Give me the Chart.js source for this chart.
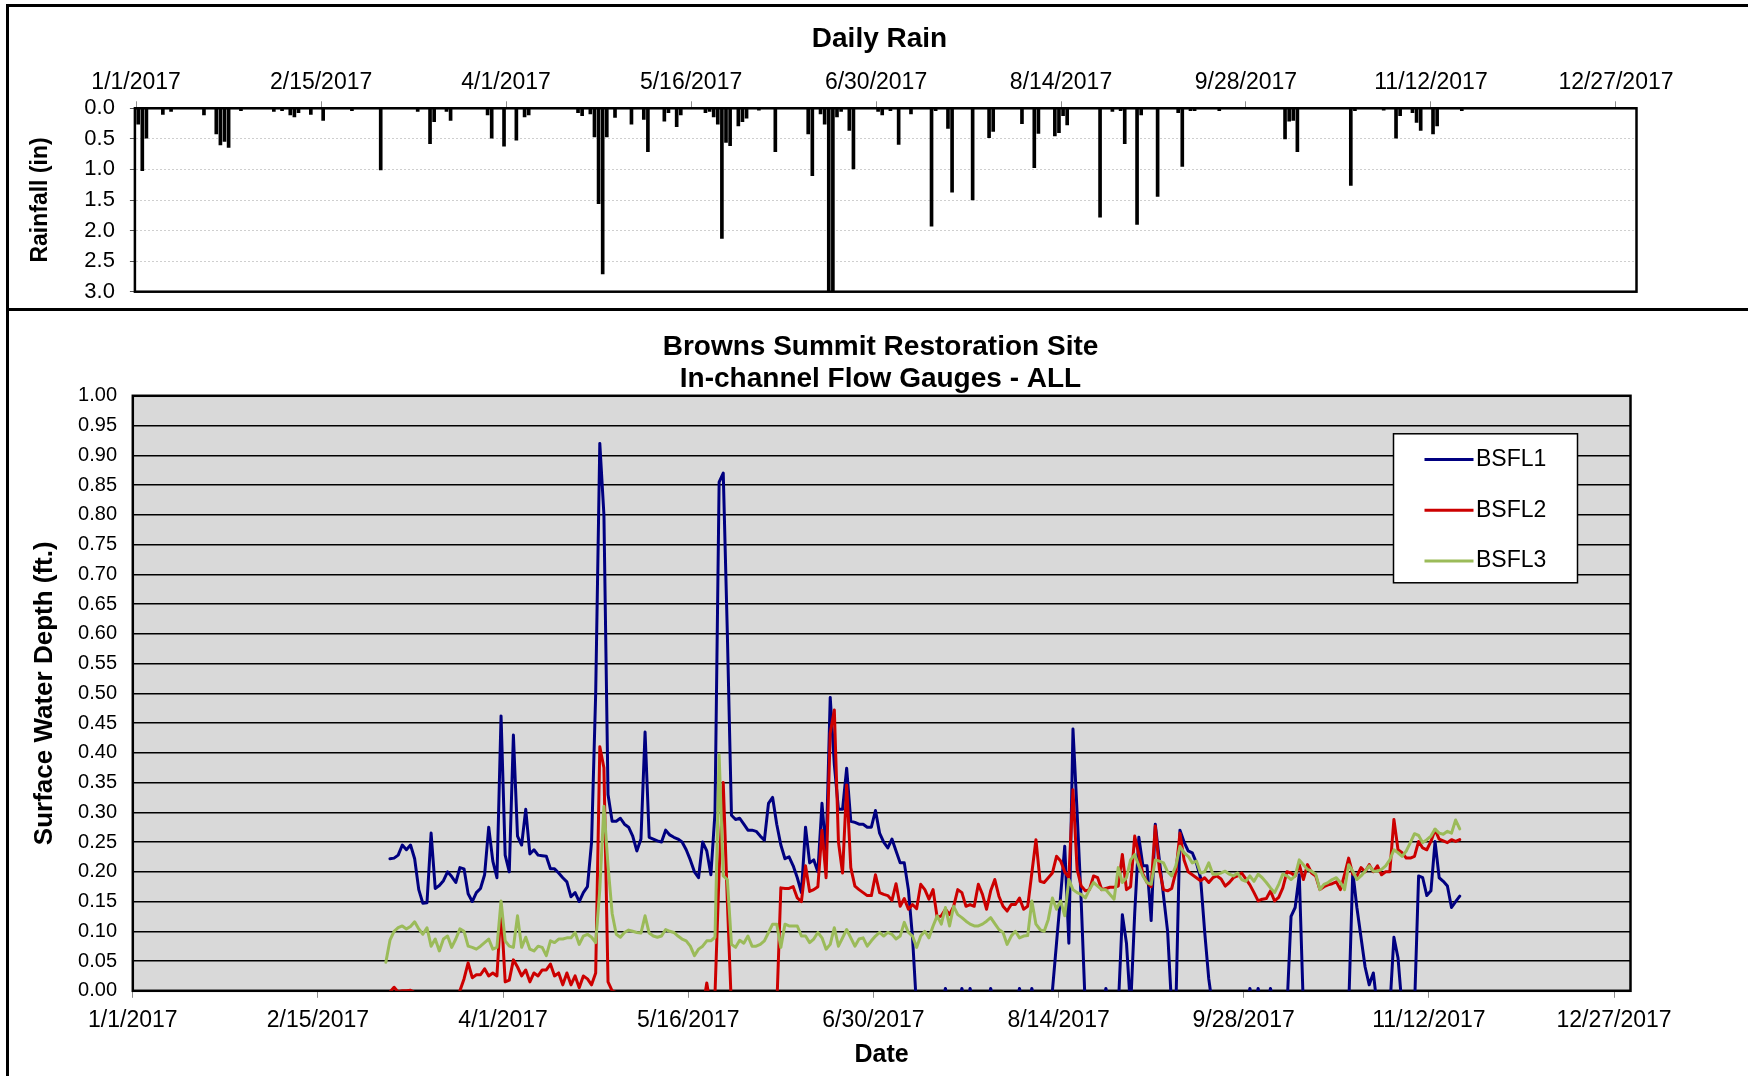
<!DOCTYPE html>
<html>
<head>
<meta charset="utf-8">
<title>Browns Summit Restoration Site</title>
<script src="https://cdn.jsdelivr.net/npm/chart.js@4.4.1/dist/chart.umd.min.js"></script>
<style>
  html, body { margin: 0; padding: 0; background: #fff; }
  body { width: 1748px; height: 1076px; position: relative; overflow: hidden; }
  canvas { position: absolute; left: 0; }
  #rainChart { top: 0; }
  #flowChart { top: 310px; }
  .rule { position: absolute; background: #000; }
</style>
</head>
<body>
<canvas id="rainChart" width="1759" height="310"></canvas>
<canvas id="flowChart" width="1761" height="766"></canvas>
<div class="rule" style="left:7px; top:4px; width:1741px; height:3px;"></div>
<div class="rule" style="left:6px; top:4px; width:3px; height:1072px;"></div>
<div class="rule" style="left:7px; top:308px; width:1741px; height:3px;"></div>
<script>
// axis dates, as day of 2017 (0 = 1 Jan)
const tickDays = [0, 45, 90, 135, 180, 225, 270, 315, 360];
const tickDates = ["1/1/2017", "2/15/2017", "4/1/2017", "5/16/2017", "6/30/2017", "8/14/2017", "9/28/2017", "11/12/2017", "12/27/2017"];

// daily rainfall (in), day of year
const rainDays = [0, 1, 2, 6, 8, 16, 19, 20, 21, 22, 25, 33, 35, 37, 38, 39, 42, 45, 52, 59,
  68, 71, 72, 75, 76, 85, 86, 89, 92, 94, 95, 107, 108, 110, 111, 112, 113, 114, 116, 120,
  123, 124, 128, 129, 131, 132, 138, 139, 140, 141, 142, 143, 144, 146, 147, 148, 151, 155, 163, 164,
  166, 167, 168, 169, 170, 171, 173, 174, 180, 181, 183, 185, 188, 193, 194, 197, 198, 203, 207, 208,
  215, 218, 219, 223, 224, 225, 226, 234, 237, 239, 240, 243, 244, 248, 253, 254, 256, 257, 263, 279,
  280, 281, 282, 295, 296, 303, 306, 307, 310, 311, 312, 315, 316, 322];
const rainInches = [0.26, 1.02, 0.49, 0.1, 0.05, 0.11, 0.42, 0.6, 0.54, 0.64, 0.04, 0.05, 0.04, 0.11, 0.14, 0.07, 0.1, 0.2, 0.04, 1.01,
  0.05, 0.58, 0.22, 0.05, 0.2, 0.11, 0.49, 0.62, 0.52, 0.14, 0.11, 0.07, 0.12, 0.09, 0.47, 1.56, 2.71, 0.47, 0.15, 0.26,
  0.18, 0.71, 0.21, 0.07, 0.3, 0.11, 0.07, 0.05, 0.14, 0.26, 2.13, 0.56, 0.61, 0.29, 0.22, 0.16, 0.03, 0.71, 0.42, 1.1,
  0.09, 0.26, 3.0, 3.0, 0.14, 0.05, 0.36, 0.99, 0.05, 0.11, 0.04, 0.59, 0.09, 1.93, 0.04, 0.33, 1.37, 1.5, 0.48, 0.38,
  0.25, 0.97, 0.41, 0.45, 0.4, 0.12, 0.27, 1.78, 0.05, 0.04, 0.58, 1.9, 0.11, 1.44, 0.07, 0.95, 0.04, 0.04, 0.04, 0.5,
  0.21, 0.2, 0.71, 1.26, 0.04, 0.03, 0.49, 0.12, 0.07, 0.23, 0.36, 0.42, 0.29, 0.04];

// daily surface water depth (ft); readings under the gauge zero fall below the axis
const gaugeStartDay = 62;   // 4 Mar 2017
const bsfl3StartDay = 61;   // 3 Mar 2017
const bsfl1 = [
  0.222, 0.223, 0.228, 0.245, 0.237, 0.245, 0.222, 0.17, 0.147, 0.148,
  0.265, 0.172, 0.177, 0.185, 0.2, 0.192, 0.182, 0.207, 0.205, 0.163,
  0.15, 0.165, 0.172, 0.195, 0.275, 0.218, 0.19, 0.462, 0.228, 0.2,
  0.43, 0.26, 0.245, 0.305, 0.23, 0.237, 0.228, 0.227, 0.226, 0.205,
  0.205, 0.198, 0.19, 0.183, 0.158, 0.165, 0.15, 0.165, 0.175, 0.25,
  0.5, 0.92, 0.8, 0.33, 0.285, 0.285, 0.29, 0.28, 0.275, 0.26,
  0.235, 0.255, 0.435, 0.258, 0.255, 0.252, 0.25, 0.27, 0.262, 0.258,
  0.255, 0.25, 0.237, 0.22, 0.2, 0.19, 0.25, 0.235, 0.195, 0.3,
  0.855, 0.87, 0.6, 0.295, 0.288, 0.29, 0.28, 0.27, 0.27, 0.268,
  0.26, 0.253, 0.315, 0.325, 0.28, 0.245, 0.222, 0.225, 0.21, 0.19,
  0.165, 0.275, 0.215, 0.22, 0.2, 0.315, 0.23, 0.493, 0.38, 0.305,
  0.305, 0.374, 0.285, 0.283, 0.28, 0.28, 0.275, 0.275, 0.303, 0.265,
  0.25, 0.24, 0.255, 0.235, 0.215, 0.215, 0.17, 0.09, -0.03, -0.03,
  -0.03, -0.03, -0.03, -0.03, -0.03, 0.004, -0.03, -0.03, -0.03, 0.004,
  -0.03, 0.004, -0.03, -0.03, -0.03, -0.03, 0.004, -0.03, -0.03, -0.03,
  -0.03, -0.03, -0.03, 0.004, -0.03, -0.03, 0.004, -0.03, -0.03, -0.03,
  -0.03, 0.0, 0.08, 0.16, 0.243, 0.08, 0.44, 0.3, 0.15, -0.03,
  -0.03, -0.03, -0.03, -0.03, 0.004, -0.03, -0.03, -0.03, 0.128, 0.08,
  -0.03, 0.13, 0.258, 0.21, 0.21, 0.118, 0.28, 0.22, 0.16, 0.1,
  -0.03, -0.03, 0.27, 0.25, 0.235, 0.232, 0.215, 0.19, 0.1, 0.02,
  -0.03, -0.03, -0.03, -0.03, -0.03, -0.03, -0.03, -0.03, -0.03, 0.004,
  -0.03, 0.004, -0.03, -0.03, 0.004, -0.03, -0.03, -0.03, -0.03, 0.125,
  0.14, 0.195, -0.03, -0.03, -0.03, -0.03, -0.03, -0.03, -0.03, -0.03,
  -0.03, -0.03, -0.03, -0.03, 0.2, 0.14, 0.09, 0.04, 0.01, 0.03,
  -0.03, -0.03, -0.03, -0.03, 0.09, 0.055, -0.03, -0.03, -0.03, -0.03,
  0.193, 0.19, 0.16, 0.168, 0.251, 0.19, 0.184, 0.176, 0.14, 0.15,
  0.159];
const bsfl2 = [
  -0.002, 0.006, -0.002, 0.0, 0.0, 0.001, -0.003, -0.03, -0.03, -0.03,
  -0.03, -0.03, -0.03, -0.03, -0.03, -0.03, -0.03, 0.0, 0.02, 0.047,
  0.022, 0.027, 0.027, 0.037, 0.025, 0.03, 0.025, 0.14, 0.015, 0.018,
  0.052, 0.04, 0.025, 0.035, 0.015, 0.03, 0.025, 0.035, 0.035, 0.045,
  0.025, 0.03, 0.01, 0.03, 0.01, 0.025, 0.005, 0.025, 0.02, 0.01,
  0.03, 0.41, 0.375, 0.015, 0.0, -0.003, -0.03, -0.03, -0.03, -0.03,
  -0.03, -0.03, -0.03, -0.03, -0.03, -0.03, -0.03, -0.03, -0.03, -0.03,
  -0.03, -0.03, -0.03, -0.03, -0.03, -0.03, -0.03, 0.013, -0.03, -0.005,
  0.2, 0.35, 0.15, -0.03, -0.03, -0.03, -0.03, -0.03, -0.03, -0.03,
  -0.03, -0.03, -0.03, -0.03, -0.03, 0.173, 0.172, 0.172, 0.175, 0.156,
  0.15, 0.21, 0.167, 0.17, 0.175, 0.27, 0.19, 0.433, 0.472, 0.25,
  0.198, 0.346, 0.207, 0.176, 0.17, 0.165, 0.16, 0.16, 0.195, 0.165,
  0.162, 0.16, 0.152, 0.18, 0.142, 0.155, 0.137, 0.145, 0.138, 0.179,
  0.17, 0.154, 0.17, 0.123, 0.126, 0.137, 0.128, 0.142, 0.17, 0.165,
  0.142, 0.145, 0.142, 0.179, 0.162, 0.137, 0.168, 0.187, 0.159, 0.142,
  0.134, 0.145, 0.145, 0.156, 0.137, 0.142, 0.198, 0.254, 0.184, 0.182,
  0.19, 0.198, 0.226, 0.218, 0.2, 0.19, 0.338, 0.204, 0.176, 0.168,
  0.17, 0.193, 0.19, 0.17, 0.172, 0.174, 0.174, 0.176, 0.229, 0.17,
  0.175, 0.26, 0.229, 0.196, 0.182, 0.175, 0.277, 0.204, 0.17, 0.168,
  0.172, 0.2, 0.265, 0.22, 0.2, 0.195, 0.19, 0.185, 0.19, 0.182,
  0.19, 0.193, 0.188, 0.176, 0.182, 0.19, 0.193, 0.198, 0.188, 0.178,
  0.165, 0.151, 0.154, 0.155, 0.168, 0.151, 0.157, 0.173, 0.2, 0.198,
  0.193, 0.212, 0.187, 0.212, 0.198, 0.193, 0.17, 0.175, 0.178, 0.18,
  0.183, 0.17, 0.195, 0.223, 0.196, 0.193, 0.207, 0.2, 0.212, 0.2,
  0.21, 0.195, 0.2, 0.2, 0.288, 0.237, 0.232, 0.223, 0.223, 0.226,
  0.251, 0.24, 0.237, 0.251, 0.271, 0.255, 0.252, 0.249, 0.254, 0.251,
  0.254];
const bsfl3 = [
  0.048,
  0.085, 0.1, 0.106, 0.109, 0.104, 0.108, 0.116, 0.104, 0.095, 0.106,
  0.075, 0.087, 0.067, 0.087, 0.092, 0.073, 0.087, 0.104, 0.1, 0.075,
  0.073, 0.07, 0.075, 0.081, 0.087, 0.07, 0.073, 0.151, 0.084, 0.075,
  0.073, 0.126, 0.073, 0.09, 0.07, 0.067, 0.075, 0.073, 0.059, 0.084,
  0.081, 0.087, 0.087, 0.089, 0.089, 0.098, 0.078, 0.092, 0.095, 0.09,
  0.081, 0.17, 0.31, 0.21, 0.13, 0.095, 0.09, 0.098, 0.102, 0.1,
  0.098, 0.097, 0.126, 0.097, 0.092, 0.09, 0.092, 0.103, 0.1, 0.098,
  0.092, 0.087, 0.084, 0.075, 0.059, 0.07, 0.075, 0.084, 0.084, 0.09,
  0.397, 0.193, 0.187, 0.078, 0.073, 0.085, 0.08, 0.092, 0.075, 0.075,
  0.078, 0.084, 0.098, 0.112, 0.112, 0.073, 0.112, 0.109, 0.109, 0.109,
  0.092, 0.092, 0.081, 0.087, 0.098, 0.089, 0.07, 0.078, 0.106, 0.075,
  0.089, 0.103, 0.089, 0.075, 0.087, 0.089, 0.075, 0.084, 0.092, 0.098,
  0.092, 0.098, 0.095, 0.087, 0.092, 0.115, 0.098, 0.092, 0.073, 0.092,
  0.1, 0.089, 0.109, 0.126, 0.112, 0.14, 0.109, 0.142, 0.128, 0.123,
  0.117, 0.112, 0.109, 0.109, 0.112, 0.117, 0.123, 0.113, 0.103, 0.098,
  0.078, 0.092, 0.1, 0.089, 0.092, 0.093, 0.151, 0.112, 0.103, 0.1,
  0.12, 0.156, 0.137, 0.151, 0.126, 0.187, 0.17, 0.165, 0.162, 0.156,
  0.17, 0.182, 0.176, 0.17, 0.17, 0.162, 0.154, 0.207, 0.182, 0.19,
  0.22, 0.229, 0.21, 0.193, 0.182, 0.179, 0.22, 0.218, 0.215, 0.2,
  0.193, 0.21, 0.243, 0.232, 0.226, 0.215,
  0.218, 0.198, 0.2, 0.215, 0.196, 0.196, 0.198, 0.201, 0.196, 0.193,
  0.198, 0.187, 0.184, 0.193, 0.184, 0.196, 0.19, 0.182, 0.173, 0.165,
  0.179, 0.196, 0.193, 0.187, 0.193, 0.22, 0.212, 0.204, 0.201, 0.196,
  0.17, 0.179, 0.182, 0.187, 0.19, 0.182, 0.17, 0.212, 0.201, 0.187,
  0.193, 0.201, 0.21, 0.201, 0.201, 0.204, 0.21, 0.22, 0.237, 0.232,
  0.226, 0.235, 0.249, 0.264, 0.261, 0.249, 0.254, 0.26, 0.272, 0.265,
  0.263, 0.268, 0.265, 0.287, 0.272];

Chart.defaults.font.family = "'Liberation Sans', Arial, sans-serif";
Chart.defaults.color = "#000";

// readings and rain totals sit in the middle of their day
function dailyPoints(values, startDay) {
  return values.map((v, i) => ({ x: startDay + i + 0.5, y: v }));
};

function dateTickAxis() {
  return {
    afterBuildTicks: (scale) => {
      scale.ticks = tickDays.map((d) => ({ value: d }));
    },
    callback: (value) => tickDates[tickDays.indexOf(value)]
  };
};

// empty axis on the right, only there to keep the plot where the sheet has it
function spacerAxis(width) {
  return {
    position: "right",
    display: true,
    ticks: { display: false },
    grid: { display: false, drawTicks: false },
    border: { display: false },
    afterFit: (scale) => { scale.width = width; }
  };
};

const plotFrame = {
  id: "plotFrame",
  beforeDraw(chart, args, opts) {
    if (!opts.fill) return;
    const { ctx, chartArea: a } = chart;
    ctx.save();
    ctx.fillStyle = opts.fill;
    ctx.fillRect(a.left, a.top, a.width, a.height);
    ctx.restore();
  },
  beforeDatasetsDraw(chart, args, opts) {
    const { ctx, chartArea: a } = chart;
    ctx.save();
    ctx.strokeStyle = "#000";
    ctx.lineWidth = opts.width || 2;
    ctx.strokeRect(a.left, a.top, a.width, a.height);
    ctx.restore();
  }
};

const legendBox = {
  id: "legendBox",
  afterDraw(chart, args, opts) {
    const { ctx, chartArea: a } = chart;
    const x = a.right - opts.right - opts.width;
    const y = a.top + opts.top;
    ctx.save();
    ctx.fillStyle = "#fff";
    ctx.fillRect(x, y, opts.width, opts.height);
    ctx.strokeStyle = "#000";
    ctx.lineWidth = 1.5;
    ctx.strokeRect(x, y, opts.width, opts.height);
    ctx.font = opts.font;
    ctx.textBaseline = "middle";
    ctx.textAlign = "left";
    chart.data.datasets.forEach((ds, i) => {
      const rowY = y + opts.firstRow + i * opts.rowGap;
      ctx.strokeStyle = ds.borderColor;
      ctx.lineWidth = 3;
      ctx.beginPath();
      ctx.moveTo(x + opts.lineStart, rowY);
      ctx.lineTo(x + opts.lineStart + opts.lineLength, rowY);
      ctx.stroke();
      ctx.fillStyle = "#000";
      ctx.fillText(ds.label, x + opts.textStart, rowY);
    });
    ctx.restore();
  }
};

const rainTicks = dateTickAxis();

new Chart(document.getElementById("rainChart"), {
  type: "bar",
  data: {
    datasets: [{
      label: "Daily Rain",
      data: rainDays.map((d, i) => ({ x: d + 0.5, y: rainInches[i] })),
      backgroundColor: "#000",
      borderWidth: 0,
      barThickness: 3
    }]
  },
  plugins: [plotFrame],
  options: {
    responsive: false,
    animation: false,
    layout: { padding: { left: 0, right: 0, top: 0, bottom: 18.3 } },
    plugins: {
      legend: { display: false },
      tooltip: { enabled: false },
      title: {
        display: true,
        text: "Daily Rain",
        color: "#000",
        font: { size: 28, weight: "bold", lineHeight: 1.2 },
        padding: { top: 22.4, bottom: 0 }
      },
      plotFrame: { width: 2.5 }
    },
    scales: {
      x: {
        type: "linear",
        position: "top",
        min: -0.3,
        max: 365,
        offset: false,
        afterBuildTicks: rainTicks.afterBuildTicks,
        afterFit: (scale) => { scale.height = 52.3; },
        grid: { offset: false, drawOnChartArea: false, drawTicks: true, tickLength: 7, tickColor: "#8c8c8c" },
        border: { display: true, color: "#000", width: 2 },
        ticks: { callback: rainTicks.callback, autoSkip: false, maxRotation: 0, padding: 5.2, font: { size: 23 } }
      },
      y: {
        reverse: true,
        min: 0,
        max: 3,
        afterFit: (scale) => {
          scale.width = 134.9;
          scale.paddingTop = 0;
          scale.paddingBottom = 0;
        },
        grid: { color: "#cfcfcf", lineWidth: 1, drawTicks: true, tickLength: 5, tickColor: "#555" },
        border: { display: true, color: "#000", width: 2, dash: [2, 2] },
        ticks: { stepSize: 0.5, autoSkip: false, padding: 15, font: { size: 22 }, callback: (v) => v.toFixed(1) },
        title: {
          display: true,
          text: "Rainfall (in)",
          font: { size: 23, weight: "bold", lineHeight: 1.2 },
          padding: { top: 27.2, bottom: 0 }
        }
      },
      yRight: spacerAxis(122.5)
    }
  }
});

const flowTicks = dateTickAxis();

new Chart(document.getElementById("flowChart"), {
  type: "line",
  data: {
    datasets: [
      { label: "BSFL1", data: dailyPoints(bsfl1, gaugeStartDay), borderColor: "#000080", order: 2 },
      { label: "BSFL2", data: dailyPoints(bsfl2, gaugeStartDay), borderColor: "#cc0000", order: 1 },
      { label: "BSFL3", data: dailyPoints(bsfl3, bsfl3StartDay), borderColor: "#9bbb59", order: 0 }
    ]
  },
  plugins: [plotFrame, legendBox],
  options: {
    responsive: false,
    animation: false,
    layout: { padding: { left: 0, right: 0, top: 0, bottom: 0 } },
    elements: {
      line: { borderWidth: 3, tension: 0, fill: false, borderJoinStyle: "round", borderCapStyle: "round" },
      point: { radius: 0, hoverRadius: 0 }
    },
    plugins: {
      legend: { display: false },
      tooltip: { enabled: false },
      title: {
        display: true,
        text: ["Browns Summit Restoration Site", "In-channel Flow Gauges - ALL"],
        color: "#000",
        font: { size: 28, weight: "bold", lineHeight: 1.155 },
        padding: { top: 21, bottom: 0.1 }
      },
      plotFrame: { fill: "#d9d9d9", width: 2.5 },
      legendBox: {
        right: 53, top: 38, width: 184, height: 149,
        firstRow: 25.8, rowGap: 50.7,
        lineStart: 31, lineLength: 49, textStart: 82.5,
        font: "23px 'Liberation Sans', Arial, sans-serif"
      }
    },
    scales: {
      x: {
        type: "linear",
        min: 0,
        max: 364,
        afterBuildTicks: flowTicks.afterBuildTicks,
        afterFit: (scale) => { scale.height = 85.2; },
        grid: { drawOnChartArea: false, drawTicks: true, tickLength: 7, tickColor: "#8c8c8c" },
        border: { display: true, color: "#000", width: 2 },
        ticks: { callback: flowTicks.callback, autoSkip: false, maxRotation: 0, padding: 8.6, font: { size: 23 } },
        title: {
          display: true,
          text: "Date",
          font: { size: 25, weight: "bold", lineHeight: 1.2 },
          padding: { top: 0, bottom: 5.7 }
        }
      },
      y: {
        min: 0,
        max: 1,
        afterFit: (scale) => { scale.width = 132.8; },
        grid: { color: "#000", lineWidth: 1.5, drawTicks: false },
        border: { display: true, color: "#000", width: 2 },
        ticks: { stepSize: 0.05, padding: 15.8, font: { size: 20 }, callback: (v) => v.toFixed(2) },
        title: {
          display: true,
          text: "Surface Water Depth (ft.)",
          font: { size: 26, weight: "bold", lineHeight: 1.2 },
          padding: { top: 29, bottom: 0 }
        }
      },
      yRight: spacerAxis(130.5)
    }
  }
});
</script>
</body>
</html>
